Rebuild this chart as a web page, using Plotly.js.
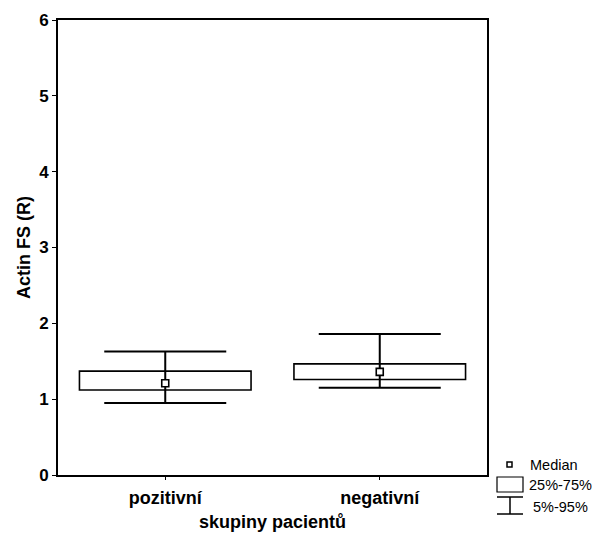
<!DOCTYPE html>
<html>
<head>
<meta charset="utf-8">
<script src="https://cdn.plot.ly/plotly-3.0.1.min.js"></script>
<style>html,body{margin:0;padding:0;background:#fff;}#chart{width:594px;height:534px;}</style>
</head>
<body>
<div id="chart"></div>
<script>
// Data
const groups = ["pozitivní", "negativní"];
const p5 = [0.95, 1.15];
const q1 = [1.12, 1.26];
const median = [1.21, 1.36];
const q3 = [1.37, 1.465];
const p95 = [1.63, 1.86];
const yTicks = [0, 1, 2, 3, 4, 5, 6];

const W = 594, H = 534;
const M = {l: 58, r: 107, t: 20, b: 59};
const pw = W - M.l - M.r, ph = H - M.t - M.b;
const px = x => (x - M.l) / pw;
const py = y => (H - M.b - y) / ph;

const whisker = {
  type: "scatter", mode: "markers", x: groups, y: median,
  marker: {size: 1, color: "rgba(0,0,0,0)"},
  error_y: {
    type: "data", symmetric: false,
    array: p95.map((v, i) => v - median[i]),
    arrayminus: median.map((v, i) => v - p5[i]),
    color: "#000", thickness: 2, width: 61
  },
  showlegend: false, hoverinfo: "skip"
};
const box = {
  type: "bar", x: groups, y: q3.map((v, i) => v - q1[i]), base: q1,
  width: 0.8,
  marker: {color: "#fff", line: {color: "#000", width: 1.6}},
  showlegend: false, hoverinfo: "skip"
};
const med = {
  type: "scatter", mode: "markers", x: groups, y: median,
  marker: {symbol: "square", size: 7, color: "#fff", line: {color: "#000", width: 1.6}},
  showlegend: false, hoverinfo: "skip"
};

const FAM = "Liberation Sans, Arial, sans-serif";
const lf = {family: FAM, size: 14.5, color: "#000"};
const layout = {
  width: W, height: H,
  margin: M,
  paper_bgcolor: "#fff", plot_bgcolor: "#fff",
  showlegend: false,
  xaxis: {
    type: "category", range: [-0.5, 1.5],
    showline: true, mirror: true, linewidth: 2, linecolor: "#000",
    ticks: "outside", ticklen: 3, tickwidth: 1, tickcolor: "#000",
    showgrid: false, zeroline: false,
    ticklabelstandoff: 2,
    tickfont: {family: FAM, size: 18, color: "#000", weight: "bold"},
    title: {text: "<b>skupiny pacientů</b>", font: {family: FAM, size: 18, color: "#000"}, standoff: 9}
  },
  yaxis: {
    range: [0, 6], tickvals: yTicks, ticktext: yTicks.map(String),
    showline: true, mirror: true, linewidth: 2, linecolor: "#000",
    ticks: "outside", ticklen: 4, tickwidth: 1, tickcolor: "#000",
    showgrid: false, zeroline: false,
    tickfont: {family: FAM, size: 17, color: "#000", weight: "bold"},
    title: {text: "<b>Actin FS (R)</b>", font: {family: FAM, size: 18, color: "#000"}, standoff: 4}
  },
  shapes: [
    {type: "rect", xref: "paper", yref: "paper", x0: px(507), x1: px(512), y0: py(467), y1: py(462), line: {color: "#000", width: 1.5}, fillcolor: "#fff"},
    {type: "rect", xref: "paper", yref: "paper", x0: px(497), x1: px(523), y0: py(492), y1: py(477), line: {color: "#000", width: 1.2}, fillcolor: "#fff"},
    {type: "line", xref: "paper", yref: "paper", x0: px(497), x1: px(523), y0: py(497), y1: py(497), line: {color: "#000", width: 1.5}},
    {type: "line", xref: "paper", yref: "paper", x0: px(510), x1: px(510), y0: py(497), y1: py(514), line: {color: "#000", width: 1.5}},
    {type: "line", xref: "paper", yref: "paper", x0: px(497), x1: px(523), y0: py(514), y1: py(514), line: {color: "#000", width: 1.5}}
  ],
  annotations: [
    {xref: "paper", yref: "paper", x: px(528), y: py(465), text: "Median", showarrow: false, xanchor: "left", yanchor: "middle", font: lf},
    {xref: "paper", yref: "paper", x: px(527), y: py(485), text: "25%-75%", showarrow: false, xanchor: "left", yanchor: "middle", font: lf},
    {xref: "paper", yref: "paper", x: px(531), y: py(507), text: "5%-95%", showarrow: false, xanchor: "left", yanchor: "middle", font: lf}
  ]
};

Plotly.newPlot("chart", [whisker, box, med], layout, {displayModeBar: false, staticPlot: true});
</script>
</body>
</html>
